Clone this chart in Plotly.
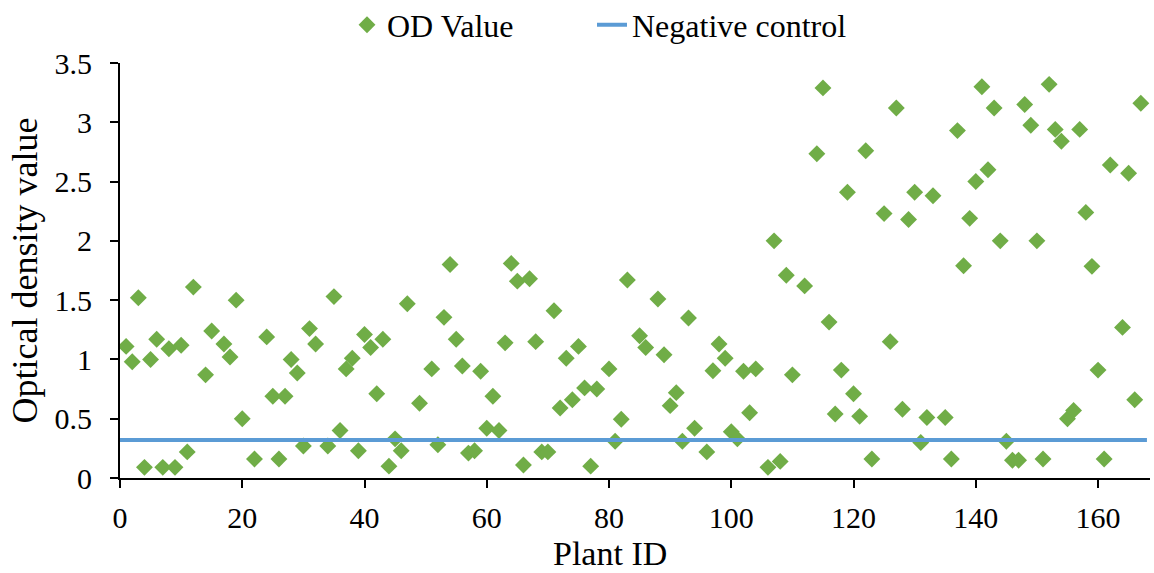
import plotly.graph_objects as go

plant_id = [1, 2, 3, 4, 5, 6, 7, 8, 9, 10, 11, 12, 14, 15, 17, 18, 19, 20, 22, 24,
            25, 26, 27, 28, 29, 30, 31, 32, 34, 35, 36, 37, 38, 39, 40, 41, 42, 43, 44, 45,
            46, 47, 49, 51, 52, 53, 54, 55, 56, 57, 58, 59, 60, 61, 62, 63, 64, 65, 66, 67,
            68, 69, 70, 71, 72, 73, 74, 75, 76, 77, 78, 80, 81, 82, 83, 85, 86, 88, 89, 90,
            91, 92, 93, 94, 96, 97, 98, 99, 100, 101, 102, 103, 104, 106, 107, 108, 109, 110, 112, 114,
            115, 116, 117, 118, 119, 120, 121, 122, 123, 125, 126, 127, 128, 129, 130, 131, 132, 133, 135, 136,
            137, 138, 139, 140, 141, 142, 143, 144, 145, 146, 147, 148, 149, 150, 151, 152, 153, 154, 155, 156,
            157, 158, 159, 160, 161, 162, 164, 165, 166, 167]
od_value = [1.11, 0.98, 1.52, 0.09, 1.00, 1.17, 0.09, 1.09, 0.09, 1.12, 0.22, 1.61, 0.87, 1.24, 1.13, 1.02, 1.50, 0.50, 0.16, 1.19,
            0.69, 0.16, 0.69, 1.00, 0.885, 0.27, 1.26, 1.13, 0.27, 1.53, 0.40, 0.92, 1.01, 0.23, 1.21, 1.10, 0.71, 1.17, 0.10, 0.33,
            0.23, 1.47, 0.63, 0.92, 0.28, 1.355, 1.80, 1.17, 0.945, 0.21, 0.23, 0.90, 0.42, 0.69, 0.40, 1.14, 1.81, 1.66, 0.11, 1.68,
            1.15, 0.22, 0.22, 1.41, 0.59, 1.01, 0.66, 1.11, 0.76, 0.10, 0.75, 0.92, 0.31, 0.495, 1.67, 1.20, 1.10, 1.51, 1.04, 0.61,
            0.72, 0.31, 1.35, 0.42, 0.22, 0.905, 1.13, 1.01, 0.39, 0.33, 0.90, 0.55, 0.92, 0.09, 2.00, 0.14, 1.71, 0.87, 1.62, 2.735,
            3.29, 1.315, 0.54, 0.91, 2.41, 0.71, 0.52, 2.76, 0.16, 2.23, 1.15, 3.12, 0.58, 2.18, 2.41, 0.30, 0.51, 2.38, 0.51, 0.16,
            2.93, 1.79, 2.19, 2.50, 3.30, 2.60, 3.12, 2.00, 0.31, 0.15, 0.15, 3.15, 2.975, 2.00, 0.16, 3.32, 2.94, 2.84, 0.50, 0.57,
            2.94, 2.24, 1.785, 0.91, 0.16, 2.64, 1.27, 2.57, 0.66, 3.16]

neg_x = [0, 168]
neg_y = [0.32, 0.32]

x_ticks = [0, 20, 40, 60, 80, 100, 120, 140, 160]
y_ticks = [0, 0.5, 1, 1.5, 2, 2.5, 3, 3.5]
y_tick_labels = ["0", "0.5", "1", "1.5", "2", "2.5", "3", "3.5"]

FONT = "Times New Roman"

fig = go.Figure()
fig.add_trace(go.Scatter(
    x=plant_id, y=od_value, mode="markers", name="OD Value", legend="legend",
    marker=dict(symbol="diamond", size=13, color="#70AD47", line=dict(width=0)),
))
fig.add_trace(go.Scatter(
    x=neg_x, y=neg_y, mode="lines", name="Negative control", legend="legend2",
    line=dict(color="#5B9BD5", width=4),
))

legend_common = dict(orientation="h", xref="container", yref="container",
                     xanchor="left", yanchor="middle", y=1 - 25 / 573,
                     font=dict(family=FONT, size=32, color="black"),
                     bgcolor="rgba(0,0,0,0)", borderwidth=0)

fig.update_layout(
    width=1154, height=573,
    margin=dict(l=120, r=4, t=63, b=95, autoexpand=False),
    paper_bgcolor="white", plot_bgcolor="white",
    font=dict(family=FONT, size=30, color="black"),
    showlegend=True,
    legend=dict(x=347 / 1154, **legend_common),
    legend2=dict(x=592 / 1154, **legend_common),
    xaxis=dict(
        range=[0, 168.5], tickvals=x_ticks, ticks="outside", ticklen=8, tickwidth=2,
        tickcolor="black", showline=True, linecolor="black", linewidth=2,
        showgrid=False, zeroline=False, ticklabelstandoff=4,
        tickfont=dict(family=FONT, size=30),
    ),
    yaxis=dict(
        range=[0, 3.5], tickvals=y_ticks, ticktext=y_tick_labels, ticks="outside",
        ticklen=8, tickwidth=2, tickcolor="black", showline=True, linecolor="black",
        linewidth=2, showgrid=False, zeroline=False, ticklabelstandoff=12,
        tickfont=dict(family=FONT, size=30),
        title=dict(text="Optical density value", font=dict(family=FONT, size=36), standoff=6),
    ),
    annotations=[dict(
        text="Plant ID", xref="paper", yref="paper",
        x=(610 - 120) / 1030, y=-(553 - 478) / 415, xanchor="center", yanchor="middle",
        showarrow=False, font=dict(family=FONT, size=34, color="black"),
    )],
)

fig.write_html("out.html")
